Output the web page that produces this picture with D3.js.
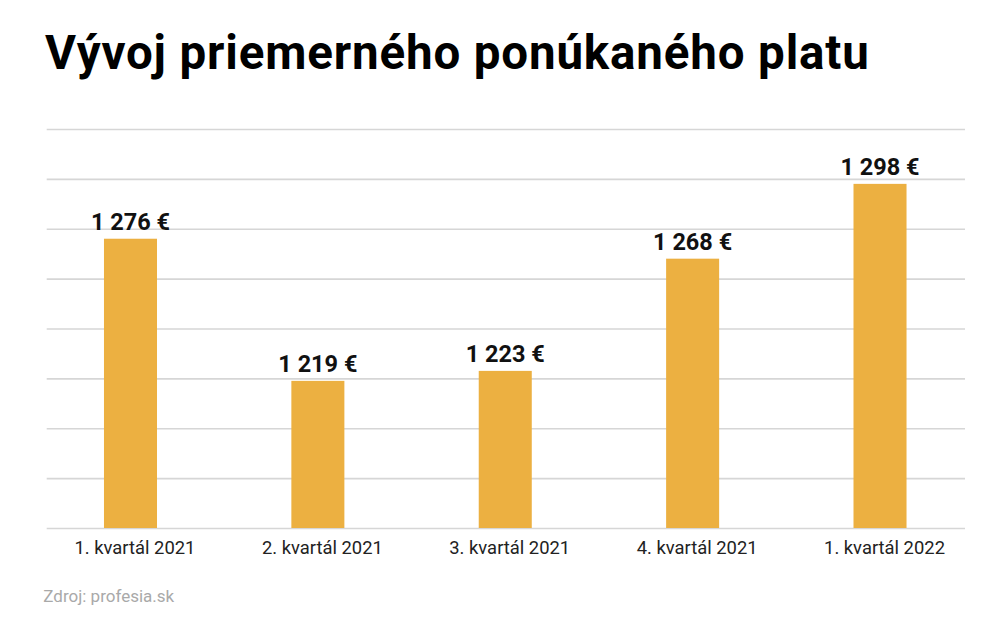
<!DOCTYPE html>
<html><head><meta charset="utf-8">
<script src="https://cdn.jsdelivr.net/npm/d3@7"></script>
<style>
html,body{margin:0;padding:0;background:#fff;}
svg{display:block;font-family:Roboto, "Noto Sans", sans-serif;}
</style></head>
<body><svg id="c" width="1000" height="627"></svg>
<script>
const categories = ["1. kvartál 2021","2. kvartál 2021","3. kvartál 2021","4. kvartál 2021","1. kvartál 2022"];
const values = [1276, 1219, 1223, 1268, 1298];
const valueLabels = ["1 276 €","1 219 €","1 223 €","1 268 €","1 298 €"];
const yTicks = [1160,1180,1200,1220,1240,1260,1280,1300,1320];
const title = "Vývoj priemerného ponúkaného platu";
const source = "Zdroj: profesia.sk";

const svg = d3.select("#c");
const x = d3.scaleBand().domain(categories).range([36.8, 973.7]).paddingInner(0.717).paddingOuter(0.3585);
const y = d3.scaleLinear().domain([1160, 1320]).range([528, 129]);

svg.append("text").attr("x", 45).attr("y", 69).attr("font-size", 47.5).attr("font-weight", 700)
  .attr("letter-spacing", 0.85).attr("fill", "#000").text(title);

const gAxis = svg.append("g").attr("transform", "translate(46.7,0)")
  .call(d3.axisLeft(y).tickValues(yTicks).tickSize(-918.3).tickFormat(""));
gAxis.select(".domain").remove();
gAxis.selectAll(".tick line").attr("stroke", "#d6d6d6").attr("stroke-width", 1.6);

svg.append("g").selectAll("rect").data(values).join("rect")
  .attr("x", (d,i) => x(categories[i])).attr("width", x.bandwidth())
  .attr("y", d => y(d)).attr("height", d => y(1160) - y(d))
  .attr("fill", "#ECB041");

svg.append("g").selectAll("text").data(values).join("text")
  .attr("x", (d,i) => x(categories[i]) + x.bandwidth()/2)
  .attr("y", d => y(d) - 9)
  .attr("text-anchor", "middle").attr("font-size", 23.5).attr("font-weight", 700).attr("fill", "#111")
  .text((d,i) => valueLabels[i]);

const gx = svg.append("g").attr("transform", "translate(0,528)")
  .call(d3.axisBottom(x).tickSize(0).tickPadding(0));
gx.select(".domain").remove();
gx.selectAll(".tick text").attr("font-size", 18.4).attr("fill", "#222")
  .attr("font-family", "Roboto, sans-serif").attr("dx", 4.5).attr("dy", 0).attr("y", 26.3);

svg.append("text").attr("x", 43.3).attr("y", 601.7).attr("font-size", 17).attr("fill", "#a9a9a9").text(source);
</script></body></html>
